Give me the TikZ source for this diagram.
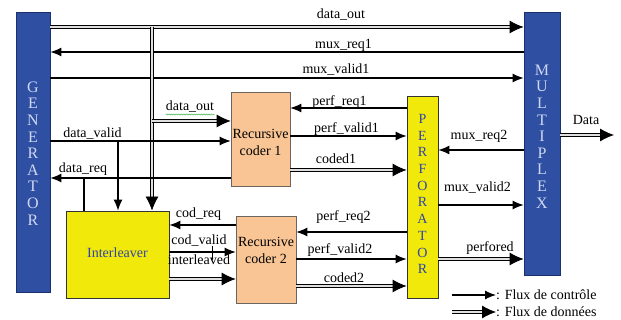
\documentclass[tikz,border=0pt]{standalone}
\usepackage{fontspec}
\setmainfont{Liberation Serif}
\usetikzlibrary{arrows.meta,decorations.pathmorphing}
\definecolor{blockblue}{RGB}{47,79,163}
\definecolor{blockblueedge}{RGB}{28,48,110}
\definecolor{paleletter}{RGB}{206,216,242}
\definecolor{inkblue}{RGB}{48,68,168}
\definecolor{blockyellow}{RGB}{241,233,10}
\definecolor{blockorange}{RGB}{249,197,148}
\definecolor{orangeedge}{RGB}{110,100,95}
\definecolor{wavegreen}{RGB}{40,170,60}
\begin{document}
\begin{tikzpicture}[x=1pt,y=-1pt,
  every node/.style={font=\rmfamily\fontsize{14}{16}\selectfont, inner sep=0pt},
  bluebox/.style={draw=blockblueedge, line width=0.8pt, fill=blockblue},
  yellowbox/.style={draw=black!80, line width=0.8pt, fill=blockyellow},
  orangebox/.style={draw=orangeedge, line width=0.6pt, fill=blockorange},
  vletters/.style={align=center, font=\rmfamily\fontsize{16}{16.6}\selectfont},
  ctrl/.style={draw, line width=1.1pt, -{Latex[length=11pt,width=9pt]}},
  plain/.style={draw, line width=1.1pt},
  dflow/.style={draw, line width=1pt, double=gray!25, double distance=2.4pt, shorten >=11pt},
  dtip/.style={draw, line width=0.8pt, -{Latex[length=14pt,width=13pt]}},
  lbl/.style={anchor=base},
]
\useasboundingbox (0,0) rectangle (621,320);

% ---- blocks ----
\node[bluebox, minimum width=34, minimum height=280] (gen) at (33,152) {};
\node[bluebox, minimum width=36, minimum height=263] (mux) at (542,143.5) {};
\node[yellowbox, minimum width=31, minimum height=202] (perf) at (422.5,197) {};
\node[yellowbox, minimum width=103, minimum height=87] (inter) at (117.5,254.5) {};
\node[orangebox, minimum width=59, minimum height=94] (c1) at (260.5,139) {};
\node[orangebox, minimum width=60, minimum height=87] (c2) at (266,259.5) {};

% ---- block titles ----
\node[vletters, text=paleletter] (gentxt) at (33,153.5) {G\\E\\N\\E\\R\\A\\T\\O\\R};
\node[vletters, text=paleletter] (muxtxt) at (542,136.5) {M\\U\\L\\T\\I\\P\\L\\E\\X};
\node[align=center, font=\rmfamily\fontsize{14}{16.7}\selectfont, text=inkblue] (perftxt) at (422.5,194) {P\\E\\R\\F\\O\\R\\A\\T\\O\\R};
\node[text=inkblue] (intertxt) at (117.5,253) {Interleaver};
\node[align=center, font=\rmfamily\fontsize{14}{17}\selectfont] (c1txt) at (260.5,142) {Recursive\\coder 1};
\node[align=center, font=\rmfamily\fontsize{14}{17}\selectfont] (c2txt) at (266,250.5) {Recursive\\coder 2};

% ---- generator <-> multiplexer ----
\draw[dflow] (gen.east |- 0,27) -- (mux.west |- 0,27);
\draw[dtip] (mux.west |- 0,27) ++(-14,0) -- (mux.west |- 0,27);
\node[lbl] (ldo) at (341,19) {data\_out};
\draw[ctrl] (mux.west |- 0,52) -- (gen.east |- 0,52);
\node[lbl] (lmr1) at (343.5,49) {mux\_req1};
\draw[ctrl] (gen.east |- 0,78) -- (mux.west |- 0,78);
\node[lbl] (lmv1) at (336,74) {mux\_valid1};

% ---- data bus down to the interleaver ----
\coordinate (busA) at (152,27);
\draw[dflow] (busA) -- (busA |- inter.north);
\draw[dtip] (busA |- inter.north) ++(0,-14) -- (busA |- inter.north);
\coordinate (busB) at (152,121);
\draw[dflow] (busB) -- (c1.west |- busB);
\draw[dtip] (c1.west |- busB) ++(-14,0) -- (c1.west |- busB);
\node[lbl] (ldo2) at (190,111) {data\_out};
\draw[wavegreen, line width=0.5pt, decorate, decoration={snake, amplitude=0.6pt, segment length=2.5pt}]
  ([yshift=-3.5pt]ldo2.base west) -- ([yshift=-3.5pt]ldo2.base east);

% ---- generator <-> coder 1 / interleaver ----
\draw[ctrl] (gen.east |- 0,141) -- (c1.west |- 0,141);
\node[lbl] (ldv) at (92.5,138) {data\_valid};
\coordinate (dvT) at (118,141);
\draw[ctrl] (dvT) -- (dvT |- inter.north);
\draw[ctrl] (c1.west |- 0,178) -- (gen.east |- 0,178);
\node[lbl] (ldr) at (83,173) {data\_req};
\coordinate (drT) at (84,178);
\draw[plain] (drT |- inter.north) -- (drT);

% ---- interleaver <-> coder 2 ----
\draw[ctrl] (c2.west |- 0,225) -- (inter.east |- 0,225);
\node[lbl] (lcr) at (198.5,218) {cod\_req};
\draw[ctrl] (inter.east |- 0,252) -- (c2.west |- 0,252);
\node[lbl] (lcv) at (199,245) {cod\_valid};
\node[lbl] (lil) at (199,265) {interleaved};
\coordinate (tickA) at (212,246);
\coordinate (tickB) at (212,261);
\draw[line width=0.6pt, -{Latex[length=3pt,width=3pt]}] (tickA) -- (tickB);
\draw[dflow] (inter.east |- 0,279) -- (c2.west |- 0,279);
\draw[dtip] (c2.west |- 0,279) ++(-14,0) -- (c2.west |- 0,279);

% ---- coders <-> perforator ----
\draw[ctrl] (perf.west |- 0,108) -- (c1.east |- 0,108);
\node[lbl] (lpr1) at (339.5,106) {perf\_req1};
\draw[ctrl] (c1.east |- 0,136) -- (perf.west |- 0,136);
\node[lbl] (lpv1) at (346.5,133) {perf\_valid1};
\draw[dflow] (c1.east |- 0,170) -- (perf.west |- 0,170);
\draw[dtip] (perf.west |- 0,170) ++(-14,0) -- (perf.west |- 0,170);
\node[lbl] (lcd1) at (336,164) {coded1};
\draw[ctrl] (perf.west |- 0,232) -- (c2.east |- 0,232);
\node[lbl] (lpr2) at (343.5,221) {perf\_req2};
\draw[ctrl] (c2.east |- 0,259) -- (perf.west |- 0,259);
\node[lbl] (lpv2) at (340,254) {perf\_valid2};
\draw[dflow] (c2.east |- 0,286) -- (perf.west |- 0,286);
\draw[dtip] (perf.west |- 0,286) ++(-14,0) -- (perf.west |- 0,286);
\node[lbl] (lcd2) at (344,283) {coded2};

% ---- perforator <-> multiplexer ----
\draw[ctrl] (mux.west |- 0,150) -- (perf.east |- 0,150);
\node[lbl] (lmr2) at (479,140) {mux\_req2};
\draw[ctrl] (perf.east |- 0,205) -- (mux.west |- 0,205);
\node[lbl] (lmv2) at (477.5,192) {mux\_valid2};
\draw[dflow] (perf.east |- 0,259) -- (mux.west |- 0,259);
\draw[dtip] (mux.west |- 0,259) ++(-14,0) -- (mux.west |- 0,259);
\node[lbl] (lpf) at (490,252) {perfored};

% ---- output ----
\coordinate (dataEnd) at (614,135);
\draw[dflow] (mux.east |- dataEnd) -- (dataEnd);
\draw[dtip] (dataEnd) ++(-14,0) -- (dataEnd);
\node[lbl] (ldata) at (586,125) {Data};

% ---- legend ----
\coordinate (lg1a) at (452,295);
\coordinate (lg1b) at (496,295);
\draw[ctrl] (lg1a) -- (lg1b);
\node[anchor=west] (lg1t) at (lg1b) {: Flux de contrôle};
\coordinate (lg2a) at (452,312);
\coordinate (lg2b) at (496,312);
\draw[dflow] (lg2a) -- (lg2b);
\draw[dtip] (lg2b) ++(-14,0) -- (lg2b);
\node[anchor=west] (lg2t) at (lg2b) {: Flux de données};
\end{tikzpicture}
\end{document}
